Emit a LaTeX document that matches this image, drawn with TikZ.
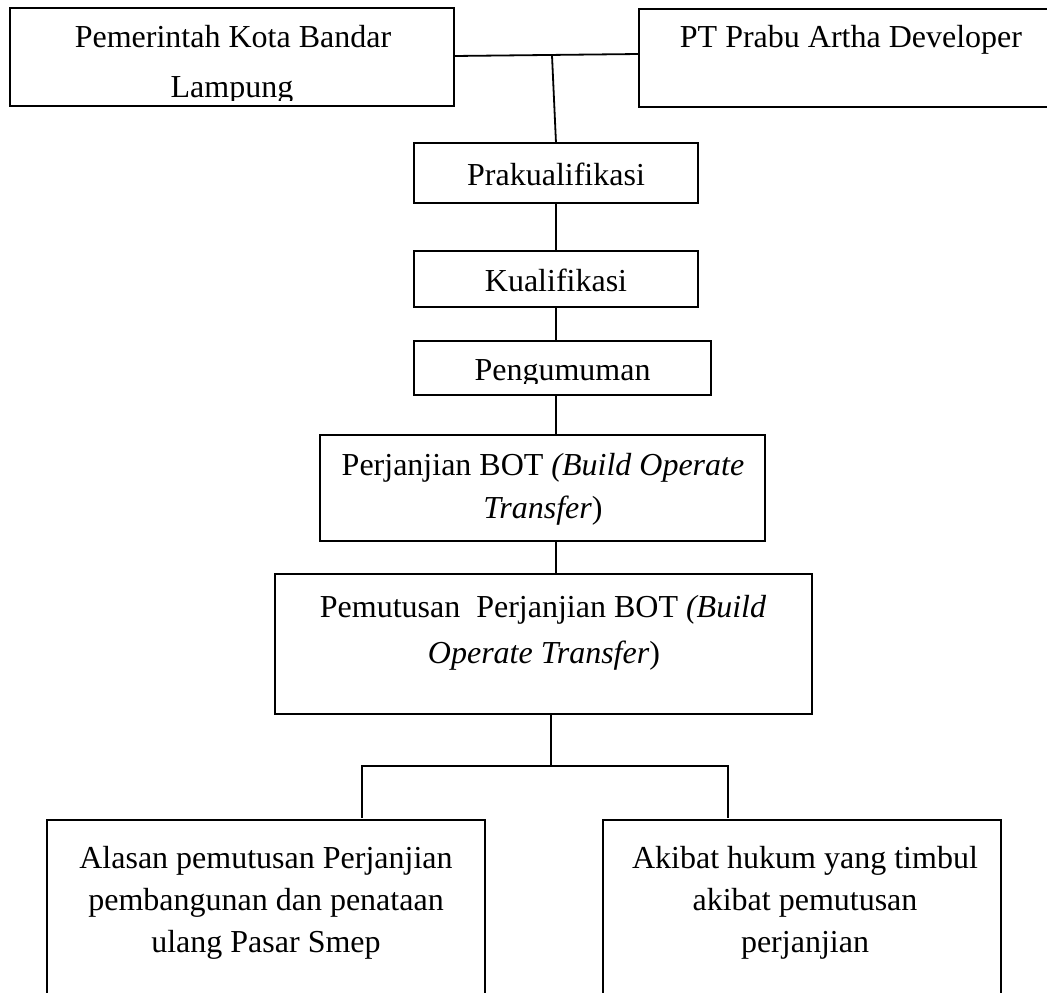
\documentclass[tikz,border=0pt]{standalone}
\usepackage{fontspec}
\setmainfont{Liberation Serif}
\begin{document}
\begin{tikzpicture}[x=1pt,y=-1pt,
  box/.style={draw,line width=1.8pt,rectangle,inner sep=0pt,outer sep=0pt},
  txt/.style={inner sep=0pt,anchor=base,font=\fontsize{32}{40}\selectfont},
  conn/.style={line width=1.8pt}]
\useasboundingbox (0,0) rectangle (1047,993);
% boxes
\node[box,minimum width=444pt,minimum height=98pt] (A) at (232,57) {};
\node[box,minimum width=424pt,minimum height=98pt] (B) at (851,58) {};
\node[box,minimum width=284pt,minimum height=60pt] (prak) at (556,173) {};
\node[box,minimum width=284pt,minimum height=56pt] (kual) at (556,279) {};
\node[box,minimum width=297pt,minimum height=54pt] (peng) at (562.5,368) {};
\node[box,minimum width=445pt,minimum height=106pt] (bot) at (542.5,488) {};
\node[box,minimum width=537pt,minimum height=140pt] (pem) at (543.5,644) {};
\node[box,minimum width=438pt,minimum height=190pt] (L) at (266,915) {};
\node[box,minimum width=398pt,minimum height=190pt] (R) at (802,915) {};
% texts
\node[txt] (a1) at (233,47) {Pemerintah Kota Bandar};
\begin{scope}
\clip (10,60) rectangle (454,100);
\node[txt] (a2) at (232,97) {Lampung};
\end{scope}
\node[txt] (b1) at (851,47) {PT Prabu Artha Developer};
\node[txt] (t1) at (556,185) {Prakualifikasi};
\node[txt] (t2) at (556,291) {Kualifikasi};
\begin{scope}
\clip (414,341) rectangle (711,383);
\node[txt] (t3) at (562.5,380) {Pengumuman};
\end{scope}
\node[txt] (t4) at (543,475) {Perjanjian BOT \textit{(Build Operate}};
\node[txt] (t5) at (543,518) {\textit{Transfer})};
\node[txt] (t6) at (543,617) {Pemutusan\ \ Perjanjian BOT \textit{(Build}};
\node[txt] (t7) at (544,663) {\textit{Operate Transfer})};
\node[txt] (l1) at (266,868) {Alasan pemutusan Perjanjian};
\node[txt] (l2) at (266,910) {pembangunan dan penataan};
\node[txt] (l3) at (266,952) {ulang Pasar Smep};
\node[txt] (r1) at (805,868) {Akibat hukum yang timbul};
\node[txt] (r2) at (805,910) {akibat pemutusan};
\node[txt] (r3) at (805,952) {perjanjian};
% connectors
\coordinate (j1) at (552,55.5);
\coordinate (sp) at (556,0);
\coordinate (j2) at (551,766);
\coordinate (jl) at (362,766);
\coordinate (jr) at (728,766);
\coordinate (el) at (362,818);
\coordinate (er) at (728,818);
\draw[conn] ([yshift=1pt]A.east) -- ([yshift=4pt]B.west);
\draw[conn] (j1) -- (prak.north);
\draw[conn] (prak.south) -- (kual.north);
\draw[conn] (kual.south) -- (sp |- peng.north);
\draw[conn] (sp |- peng.south) -- (sp |- bot.north);
\draw[conn] (sp |- bot.south) -- (sp |- pem.north);
\draw[conn] (j2 |- pem.south) -- (j2);
\draw[conn] (el) -- (jl) -- (jr) -- (er);
\end{tikzpicture}
\end{document}
